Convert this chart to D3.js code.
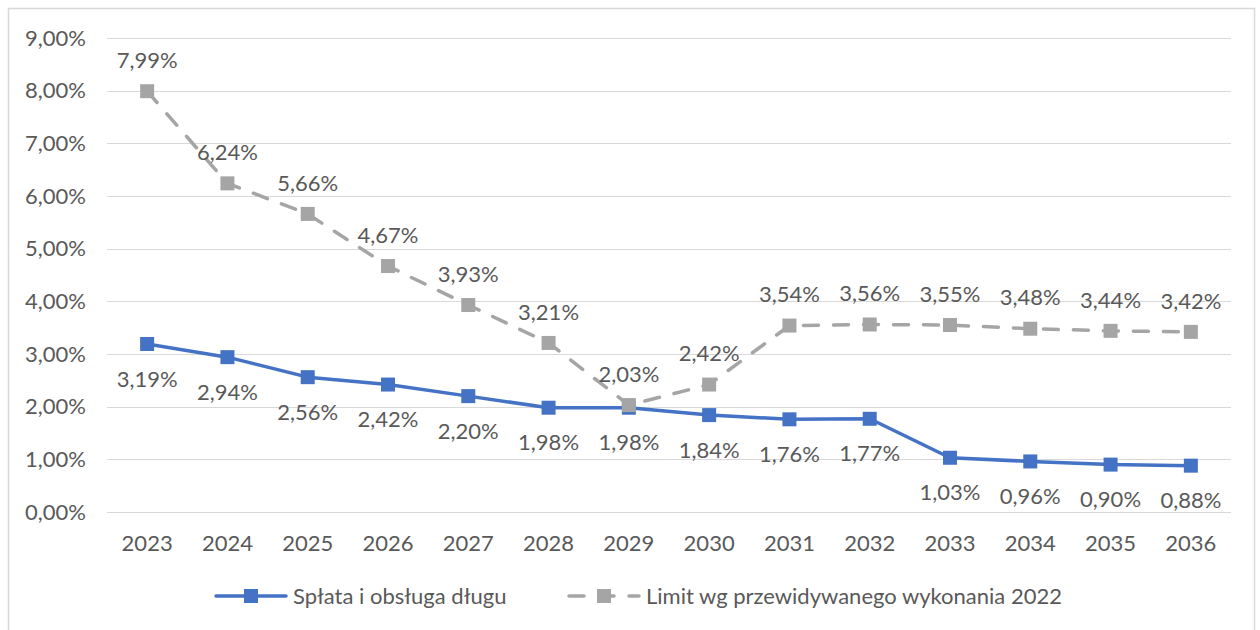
<!DOCTYPE html>
<html><head><meta charset="utf-8">
<script src="https://cdn.jsdelivr.net/npm/d3@7/dist/d3.min.js"></script>
<style>html,body{margin:0;padding:0;background:#fff;}svg{display:block;}</style>
</head><body>
<script>
const years = ["2023","2024","2025","2026","2027","2028","2029","2030","2031","2032","2033","2034","2035","2036"];
const splata = [3.19,2.94,2.56,2.42,2.20,1.98,1.98,1.84,1.76,1.77,1.03,0.96,0.90,0.88];
const limit = [7.99,6.24,5.66,4.67,3.93,3.21,2.03,2.42,3.54,3.56,3.55,3.48,3.44,3.42];
const yTicks = [0,1,2,3,4,5,6,7,8,9];
const seriesNames = ["Spłata i obsługa długu","Limit wg przewidywanego wykonania 2022"];

const W=1260,H=630;
const svg=d3.select("body").append("svg").attr("width",W).attr("height",H);
const font="Lato, 'Open Sans', sans-serif";
const fs=22;
const txt="#595959";
svg.append("rect").attr("x",8.5).attr("y",8.5).attr("width",1246).attr("height",640)
  .attr("fill","#fff").attr("stroke","#D9D9D9").attr("stroke-width",1.5);

const x=d3.scaleBand().domain(years).range([107,1231]);
const cx=d=>x(d)+x.bandwidth()/2;
const y=d3.scaleLinear().domain([0,9]).range([512,38]);
const fmt=v=>v.toFixed(2).replace(".",",")+"%";

// grid
svg.append("g").selectAll("line").data(yTicks).join("line")
  .attr("x1",107).attr("x2",1231).attr("y1",d=>Math.round(y(d))+0.5).attr("y2",d=>Math.round(y(d))+0.5)
  .attr("stroke","#D9D9D9").attr("stroke-width",1);
// y labels
svg.append("g").selectAll("text").data(yTicks).join("text")
  .attr("x",86).attr("y",d=>y(d)).attr("dy","0.35em").attr("text-anchor","end")
  .attr("font-family",font).attr("font-size",fs).attr("fill",txt).text(d=>fmt(d));
// x labels
svg.append("g").selectAll("text").data(years).join("text")
  .attr("x",d=>cx(d)).attr("y",543).attr("dy","0.35em").attr("text-anchor","middle")
  .attr("font-family",font).attr("font-size",fs).attr("fill",txt).text(d=>d);

const line=d3.line().x(d=>cx(d[0])).y(d=>y(d[1]));
const blue="#4472C4", gray="#A5A5A5";
const sData=years.map((yr,i)=>[yr,splata[i]]);
const lData=years.map((yr,i)=>[yr,limit[i]]);

svg.append("path").datum(sData).attr("d",line).attr("fill","none").attr("stroke",blue)
  .attr("stroke-width",3.5).attr("stroke-linejoin","round").attr("stroke-linecap","round");
svg.append("g").selectAll("rect").data(sData).join("rect")
  .attr("x",d=>cx(d[0])-7).attr("y",d=>y(d[1])-7).attr("width",14).attr("height",14).attr("fill",blue);

svg.append("path").datum(lData).attr("d",line).attr("fill","none").attr("stroke",gray)
  .attr("stroke-width",3.5).attr("stroke-dasharray","15,15").attr("stroke-linejoin","round").attr("stroke-linecap","round");
svg.append("g").selectAll("rect").data(lData).join("rect")
  .attr("x",d=>cx(d[0])-7).attr("y",d=>y(d[1])-7).attr("width",14).attr("height",14).attr("fill",gray);

// data labels
svg.append("g").selectAll("text").data(sData).join("text")
  .attr("x",d=>cx(d[0])).attr("y",d=>y(d[1])+35).attr("dy","0.35em").attr("text-anchor","middle")
  .attr("font-family",font).attr("font-size",fs).attr("fill",txt).text(d=>fmt(d[1]));
svg.append("g").selectAll("text").data(lData).join("text")
  .attr("x",d=>cx(d[0])).attr("y",d=>y(d[1])-31).attr("dy","0.35em").attr("text-anchor","middle")
  .attr("font-family",font).attr("font-size",fs).attr("fill",txt).text(d=>fmt(d[1]));

// legend
const lg=svg.append("g");
lg.append("line").attr("x1",216).attr("x2",286).attr("y1",596).attr("y2",596)
  .attr("stroke",blue).attr("stroke-width",3.5).attr("stroke-linecap","round");
lg.append("rect").attr("x",244).attr("y",589).attr("width",14).attr("height",14).attr("fill",blue);
lg.append("text").attr("x",293).attr("y",596).attr("dy","0.35em").attr("font-family",font)
  .attr("font-size",fs).attr("fill",txt).text(seriesNames[0]);
lg.append("line").attr("x1",569).attr("x2",639).attr("y1",596).attr("y2",596)
  .attr("stroke",gray).attr("stroke-width",3.5).attr("stroke-linecap","round").attr("stroke-dasharray","15,15");
lg.append("rect").attr("x",597).attr("y",589).attr("width",14).attr("height",14).attr("fill",gray);
lg.append("text").attr("x",646).attr("y",596).attr("dy","0.35em").attr("font-family",font)
  .attr("font-size",fs).attr("fill",txt).text(seriesNames[1]);
</script>
</body></html>
